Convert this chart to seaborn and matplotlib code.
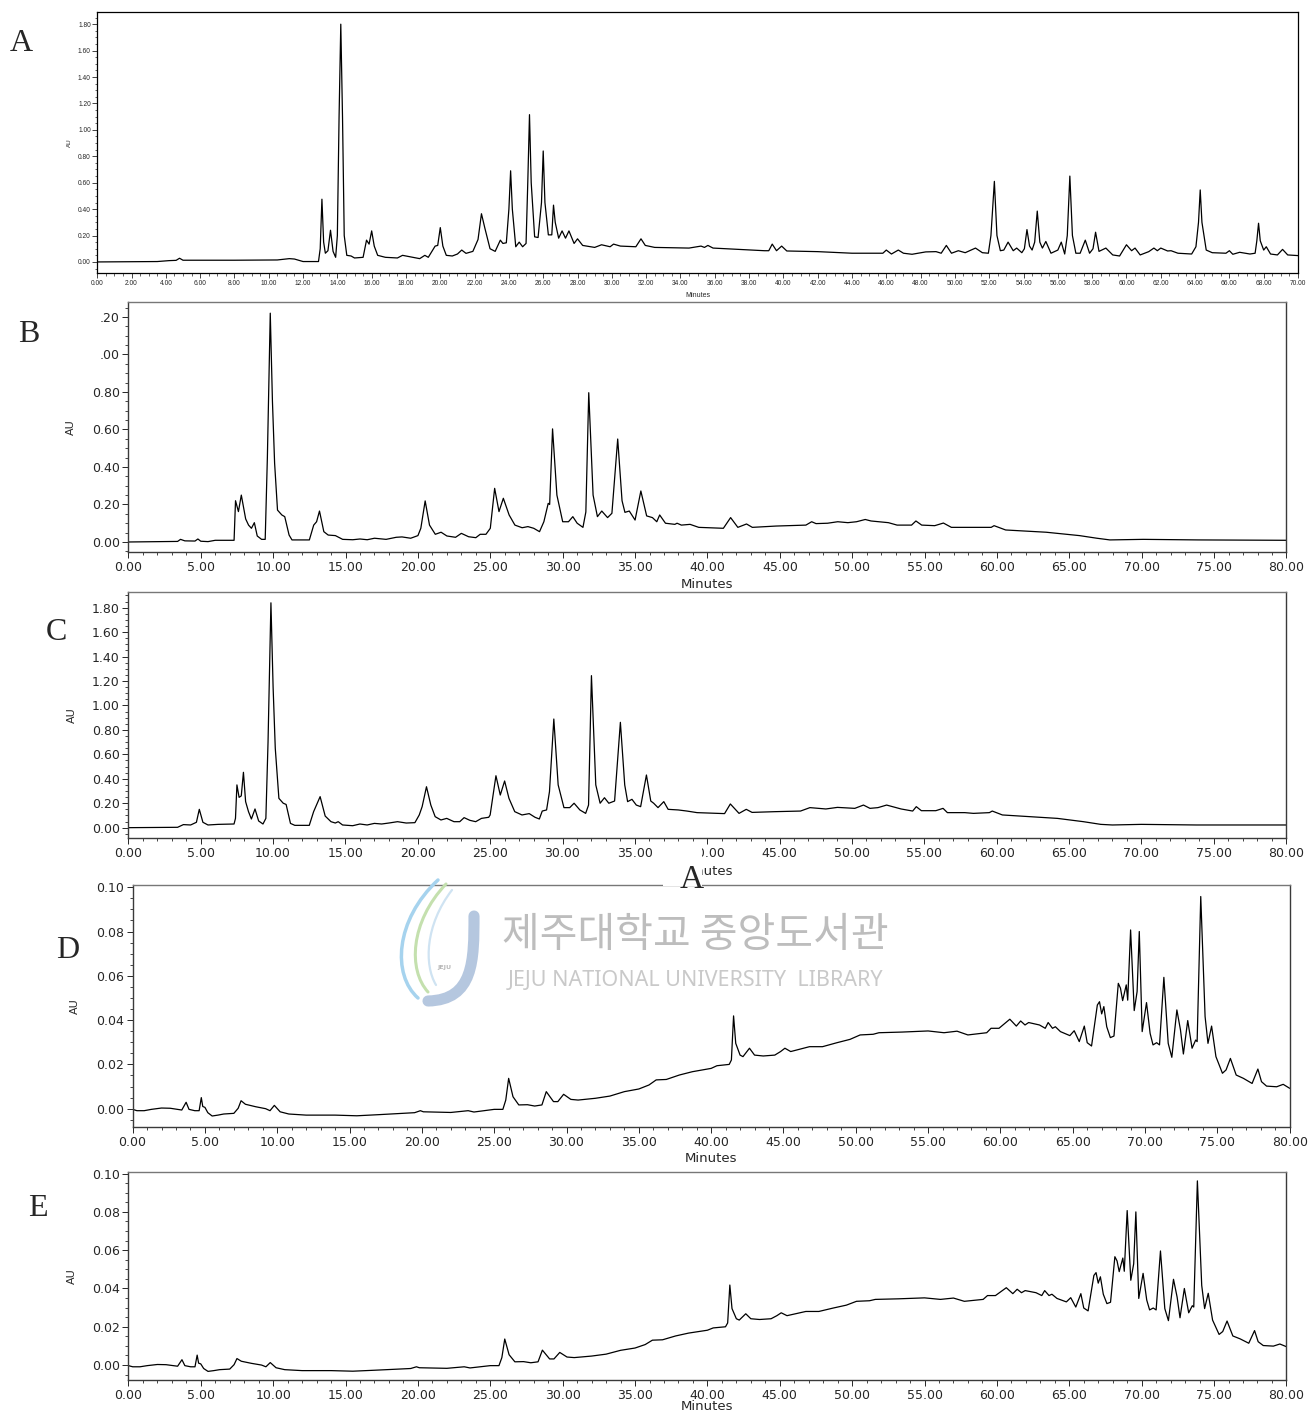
import numpy as np
import seaborn as sns
import matplotlib
matplotlib.use("Agg")
from matplotlib import pyplot as plt
from matplotlib.ticker import MultipleLocator
from matplotlib.patches import Rectangle, PathPatch
from matplotlib.path import Path

# chromatogram traces (minutes, AU)
a_time = [
    0, 3.5, 4.2, 4.6, 4.8, 5.0, 6.0, 8.0, 10.5, 11.2,
    11.5, 12.0, 12.9, 13.0, 13.1, 13.2, 13.3, 13.45, 13.6, 13.75,
    13.9, 14.0, 14.1, 14.2, 14.3, 14.4, 14.55, 14.8, 15.0, 15.5,
    15.7, 15.85, 16.0, 16.15, 16.35, 16.8, 17.5, 17.8, 18.2, 18.8,
    19.1, 19.3, 19.7, 19.85, 20.0, 20.15, 20.35, 20.7, 21.0, 21.25,
    21.5, 21.9, 22.2, 22.4, 22.6, 22.9, 23.2, 23.5, 23.65, 23.85,
    24.0, 24.1, 24.2, 24.4, 24.6, 24.8, 25.0, 25.1, 25.2, 25.3,
    25.5, 25.7, 25.9, 26.0, 26.1, 26.3, 26.5, 26.6, 26.7, 26.9,
    27.1, 27.3, 27.5, 27.8, 28.0, 28.3, 29.0, 29.4, 29.9, 30.1,
    30.5, 31.4, 31.7, 31.95, 32.5, 34.5, 35.2, 35.4, 35.6, 35.9,
    38.9, 39.15, 39.35, 39.6, 39.9, 40.2, 42.0, 44.0, 45.8, 46.0,
    46.3, 46.7, 47.0, 47.5, 48.3, 48.9, 49.2, 49.5, 49.8, 50.2,
    50.6, 51.2, 51.6, 51.95, 52.1, 52.3, 52.45, 52.65, 52.85, 53.1,
    53.4, 53.6, 53.9, 54.05, 54.2, 54.35, 54.5, 54.65, 54.8, 54.95,
    55.1, 55.3, 55.6, 56.0, 56.2, 56.4, 56.55, 56.7, 56.85, 57.05,
    57.3, 57.6, 57.85, 58.05, 58.2, 58.4, 58.8, 59.2, 59.6, 60.0,
    60.3, 60.5, 60.8, 61.3, 61.6, 61.8, 62.0, 62.4, 62.6, 63.0,
    63.8, 64.05, 64.2, 64.3, 64.4, 64.65, 65.0, 65.8, 66.0, 66.2,
    66.6, 67.2, 67.5, 67.6, 67.7, 67.8, 68.0, 68.15, 68.4, 68.8,
    69.1, 69.4, 70.0]
a_au = [
    0.0, 0.003, 0.01, 0.012, 0.028, 0.013, 0.013, 0.013, 0.015, 0.025,
    0.022, 0.003, 0.003, 0.1, 0.475, 0.15, 0.066, 0.085, 0.24, 0.08,
    0.035, 0.2, 1.1, 1.80, 1.1, 0.2, 0.05, 0.045, 0.03, 0.035,
    0.165, 0.135, 0.235, 0.12, 0.05, 0.035, 0.03, 0.05, 0.04, 0.025,
    0.05, 0.035, 0.12, 0.125, 0.26, 0.12, 0.05, 0.045, 0.06, 0.09,
    0.065, 0.08, 0.17, 0.365, 0.255, 0.1, 0.08, 0.165, 0.14, 0.145,
    0.4, 0.69, 0.4, 0.115, 0.15, 0.115, 0.14, 0.6, 1.115, 0.6,
    0.19, 0.185, 0.45, 0.84, 0.45, 0.205, 0.205, 0.43, 0.3, 0.18,
    0.235, 0.18, 0.235, 0.14, 0.175, 0.125, 0.11, 0.13, 0.115, 0.135,
    0.12, 0.115, 0.175, 0.125, 0.11, 0.105, 0.12, 0.11, 0.125, 0.105,
    0.085, 0.085, 0.135, 0.085, 0.12, 0.083, 0.078, 0.066, 0.066, 0.09,
    0.06, 0.09, 0.066, 0.058, 0.076, 0.078, 0.066, 0.125, 0.066, 0.085,
    0.07, 0.105, 0.07, 0.066, 0.2, 0.61, 0.2, 0.085, 0.09, 0.15,
    0.085, 0.105, 0.07, 0.1, 0.245, 0.12, 0.09, 0.15, 0.385, 0.15,
    0.105, 0.155, 0.066, 0.09, 0.15, 0.06, 0.2, 0.65, 0.2, 0.066,
    0.066, 0.165, 0.066, 0.1, 0.225, 0.08, 0.105, 0.053, 0.045, 0.13,
    0.085, 0.105, 0.053, 0.078, 0.105, 0.085, 0.105, 0.083, 0.085, 0.066,
    0.06, 0.115, 0.3, 0.545, 0.3, 0.09, 0.07, 0.066, 0.085, 0.058,
    0.073, 0.06, 0.066, 0.16, 0.293, 0.16, 0.09, 0.115, 0.06, 0.053,
    0.095, 0.053, 0.048]

b_time = [
    0, 3.4, 3.6, 3.9, 4.6, 4.8, 5.0, 5.5, 6.0, 7.3,
    7.4, 7.6, 7.8, 8.1, 8.3, 8.5, 8.7, 8.9, 9.2, 9.45,
    9.6, 9.8, 9.95, 10.1, 10.3, 10.6, 10.8, 11.1, 11.3, 12.5,
    12.8, 13.0, 13.2, 13.5, 13.8, 14.3, 14.8, 15.5, 16.0, 16.5,
    17.0, 17.8, 18.5, 18.9, 19.5, 20.0, 20.2, 20.5, 20.8, 21.2,
    21.6, 22.0, 22.6, 23.0, 23.5, 24.0, 24.3, 24.7, 25.0, 25.3,
    25.6, 25.9, 26.3, 26.7, 27.2, 27.6, 28.0, 28.4, 28.7, 29.0,
    29.1, 29.3, 29.6, 30.0, 30.4, 30.7, 31.0, 31.4, 31.6, 31.8,
    32.1, 32.4, 32.7, 33.1, 33.4, 33.8, 34.1, 34.3, 34.6, 35.0,
    35.4, 35.8, 36.2, 36.5, 36.7, 37.1, 37.75, 37.9, 38.2, 38.8,
    39.4, 41.1, 41.6, 42.1, 42.7, 43.1, 44.75, 46.8, 47.2, 47.5,
    48.3, 49.0, 49.7, 50.3, 50.9, 51.3, 52.5, 53.1, 54.1, 54.4,
    54.8, 55.7, 56.3, 56.85, 58.2, 59.6, 59.8, 60.6, 63.4, 65.7,
    66.9, 67.8, 70.1, 73.9, 80.0]
b_au = [
    0.0, 0.003, 0.014, 0.006, 0.005, 0.016, 0.004, 0.002, 0.009, 0.009,
    0.22, 0.162, 0.25, 0.123, 0.09, 0.073, 0.103, 0.032, 0.014, 0.014,
    0.45, 1.22, 0.75, 0.42, 0.17, 0.144, 0.135, 0.037, 0.011, 0.011,
    0.09, 0.108, 0.165, 0.055, 0.037, 0.034, 0.014, 0.012, 0.016, 0.012,
    0.02, 0.014, 0.025, 0.027, 0.02, 0.034, 0.073, 0.219, 0.09, 0.041,
    0.052, 0.032, 0.025, 0.046, 0.028, 0.023, 0.041, 0.041, 0.073, 0.286,
    0.162, 0.233, 0.144, 0.09, 0.076, 0.082, 0.073, 0.055, 0.108, 0.206,
    0.2, 0.603, 0.25, 0.108, 0.108, 0.135, 0.1, 0.078, 0.16, 0.796,
    0.25, 0.135, 0.165, 0.13, 0.153, 0.549, 0.22, 0.158, 0.165, 0.117,
    0.272, 0.139, 0.13, 0.108, 0.144, 0.1, 0.094, 0.1, 0.09, 0.094,
    0.078, 0.073, 0.13, 0.078, 0.096, 0.078, 0.085, 0.09, 0.108, 0.098,
    0.1, 0.108, 0.103, 0.108, 0.12, 0.112, 0.103, 0.09, 0.09, 0.112,
    0.09, 0.087, 0.101, 0.078, 0.078, 0.078, 0.087, 0.064, 0.052, 0.034,
    0.02, 0.011, 0.014, 0.011, 0.009]

c_time = [
    0, 3.4, 3.8, 4.3, 4.7, 4.9, 5.15, 5.5, 6.2, 7.3,
    7.4, 7.5, 7.65, 7.8, 7.95, 8.1, 8.3, 8.5, 8.75, 9.0,
    9.3, 9.5, 9.65, 9.85, 10.0, 10.15, 10.4, 10.7, 10.9, 11.2,
    11.5, 12.5, 12.8, 13.0, 13.25, 13.6, 14.0, 14.3, 14.5, 14.8,
    15.5, 16.0, 16.5, 17.0, 17.5, 18.0, 18.6, 19.2, 19.8, 20.1,
    20.3, 20.6, 20.9, 21.2, 21.6, 22.0, 22.5, 22.9, 23.2, 23.6,
    24.0, 24.4, 24.9, 25.0, 25.4, 25.7, 26.0, 26.3, 26.7, 27.2,
    27.7, 28.1, 28.4, 28.6, 28.9, 29.1, 29.4, 29.7, 30.1, 30.5,
    30.8, 31.2, 31.6, 31.8, 32.0, 32.3, 32.6, 32.9, 33.2, 33.6,
    34.0, 34.3, 34.5, 34.8, 35.1, 35.4, 35.8, 36.1, 36.3, 36.6,
    37.0, 37.3, 38.0, 38.6, 39.3, 41.2, 41.6, 42.2, 42.7, 43.1,
    44.7, 46.45, 47.1, 48.2, 49.0, 50.2, 50.8, 51.25, 51.8, 52.4,
    53.4, 54.2, 54.45, 54.8, 55.8, 56.3, 56.6, 57.8, 58.4, 59.5,
    59.7, 60.4, 61.6, 64.2, 66.0, 67.2, 68.0, 70.0, 73.8, 80.0]
c_au = [
    0.0, 0.003, 0.025, 0.022, 0.044, 0.15, 0.044, 0.022, 0.027, 0.03,
    0.076, 0.35, 0.248, 0.26, 0.453, 0.213, 0.131, 0.071, 0.153, 0.055,
    0.03, 0.076, 0.7, 1.84, 1.15, 0.65, 0.24, 0.2, 0.19, 0.035,
    0.019, 0.019, 0.131, 0.185, 0.254, 0.095, 0.049, 0.038, 0.049, 0.022,
    0.016, 0.03, 0.022, 0.035, 0.03, 0.038, 0.049, 0.038, 0.041, 0.104,
    0.172, 0.335, 0.185, 0.09, 0.063, 0.076, 0.049, 0.049, 0.082, 0.06,
    0.049, 0.076, 0.085, 0.104, 0.425, 0.267, 0.382, 0.24, 0.131, 0.104,
    0.115, 0.085, 0.071, 0.136, 0.145, 0.295, 0.889, 0.35, 0.164, 0.164,
    0.2, 0.145, 0.117, 0.185, 1.244, 0.35, 0.2, 0.245, 0.2, 0.218,
    0.862, 0.35, 0.213, 0.232, 0.185, 0.172, 0.431, 0.218, 0.2, 0.164,
    0.213, 0.15, 0.145, 0.136, 0.123, 0.115, 0.194, 0.117, 0.15, 0.125,
    0.131, 0.136, 0.164, 0.153, 0.166, 0.158, 0.185, 0.158, 0.164, 0.185,
    0.153, 0.136, 0.172, 0.139, 0.139, 0.158, 0.123, 0.123, 0.117, 0.123,
    0.136, 0.104, 0.095, 0.076, 0.049, 0.027, 0.022, 0.027, 0.022, 0.022]

d_time = [
    0, 0.3, 0.8, 1.3, 2.0, 2.6, 3.4, 3.7, 3.9, 4.3,
    4.6, 4.75, 4.85, 5.0, 5.2, 5.5, 5.9, 6.3, 7.0, 7.3,
    7.5, 7.8, 8.5, 9.2, 9.5, 9.8, 10.2, 10.8, 12.0, 14.0,
    15.5, 17.0, 19.5, 19.9, 20.1, 22.0, 23.2, 23.6, 25.0, 25.6,
    25.8, 26.0, 26.3, 26.7, 27.3, 27.8, 28.3, 28.6, 29.1, 29.4,
    29.8, 30.3, 30.8, 32.0, 33.0, 34.0, 35.0, 35.7, 36.2, 36.9,
    37.8, 38.7, 40.0, 40.4, 41.25, 41.4, 41.55, 41.7, 42.0, 42.2,
    42.65, 43.0, 43.6, 44.4, 44.8, 45.1, 45.5, 46.8, 47.7, 48.7,
    49.6, 50.3, 51.2, 51.6, 53.2, 55.0, 56.1, 57.0, 57.75, 59.05,
    59.35, 59.9, 60.65, 61.1, 61.4, 61.7, 61.95, 62.7, 63.1, 63.3,
    63.6, 63.8, 64.15, 64.8, 65.1, 65.45, 65.8, 66.0, 66.3, 66.7,
    66.85, 67.0, 67.15, 67.35, 67.6, 67.85, 68.15, 68.3, 68.45, 68.7,
    68.8, 69.0, 69.25, 69.45, 69.6, 69.8, 70.1, 70.35, 70.55, 70.8,
    71.0, 71.3, 71.6, 71.85, 72.2, 72.45, 72.65, 72.95, 73.25, 73.5,
    73.6, 73.85, 74.15, 74.35, 74.6, 74.9, 75.35, 75.6, 75.9, 76.3,
    76.8, 77.4, 77.8, 78.05, 78.4, 79.1, 79.55, 80.0]
d_au = [
    -0.0003, -0.0009, -0.0009, -0.0003, 0.0003, 0.0002, -0.0006, 0.0029, -0.0003, -0.0009,
    -0.0009, 0.005, 0.001, 0.0006, -0.0018, -0.0033, -0.0029, -0.0024, -0.0021, 0.0002,
    0.0036, 0.002, 0.0009, 0.0, -0.0009, 0.0015, -0.0014, -0.0024, -0.0029, -0.0029,
    -0.0032, -0.0027, -0.0018, -0.0009, -0.0014, -0.0017, -0.0009, -0.0015, -0.0003, -0.0003,
    0.0039, 0.0137, 0.0054, 0.0017, 0.0018, 0.0012, 0.0017, 0.0077, 0.0032, 0.0032,
    0.0065, 0.0042, 0.0039, 0.0047, 0.0057, 0.0077, 0.0089, 0.0107, 0.013, 0.0132,
    0.0152, 0.0167, 0.0182, 0.0194, 0.02, 0.022, 0.0419, 0.0295, 0.0242, 0.0235,
    0.0273, 0.0242, 0.0238, 0.0242, 0.0258, 0.0273, 0.0258, 0.028, 0.028, 0.0298,
    0.0313, 0.0333, 0.0336, 0.0343, 0.0346, 0.0351, 0.0343, 0.035, 0.0333, 0.0343,
    0.0363, 0.0363, 0.0404, 0.0373, 0.0396, 0.0378, 0.0389, 0.0378, 0.0363, 0.0389,
    0.0363, 0.037, 0.0348, 0.033, 0.0352, 0.0303, 0.0373, 0.0298, 0.0283, 0.0468,
    0.0483, 0.0428, 0.0461, 0.037, 0.0321, 0.0328, 0.0566, 0.0544, 0.0488, 0.0559,
    0.049, 0.0807, 0.0443, 0.0529, 0.08, 0.0348, 0.0479, 0.034, 0.0288, 0.0298,
    0.0288, 0.0593, 0.0295, 0.0232, 0.0446, 0.0355, 0.0247, 0.0398, 0.0273, 0.031,
    0.0303, 0.0958, 0.0416, 0.0295, 0.0373, 0.0235, 0.016, 0.0175, 0.0227, 0.0152,
    0.0137, 0.0114, 0.0179, 0.0122, 0.0102, 0.0099, 0.011, 0.0092]

# E was run on the same time grid as D
e_time = list(d_time)
e_au = [
    -0.0003, -0.0009, -0.0009, -0.0003, 0.0003, 0.0002, -0.0006, 0.0028, -0.0003, -0.0009,
    -0.0009, 0.0052, 0.001, 0.0006, -0.0018, -0.0033, -0.0029, -0.0024, -0.0021, 0.0002,
    0.0034, 0.002, 0.0009, 0.0, -0.0009, 0.0013, -0.0014, -0.0024, -0.0029, -0.0029,
    -0.0032, -0.0027, -0.0018, -0.0009, -0.0014, -0.0017, -0.0009, -0.0015, -0.0003, -0.0003,
    0.0039, 0.0136, 0.0054, 0.0017, 0.0018, 0.0012, 0.0017, 0.0078, 0.0032, 0.0032,
    0.0066, 0.0042, 0.0039, 0.0047, 0.0057, 0.0077, 0.0089, 0.0107, 0.013, 0.0132,
    0.0152, 0.0167, 0.0182, 0.0194, 0.02, 0.022, 0.0418, 0.0295, 0.0242, 0.0235,
    0.0268, 0.0242, 0.0238, 0.0242, 0.0258, 0.0273, 0.0258, 0.028, 0.028, 0.0298,
    0.0313, 0.0333, 0.0336, 0.0343, 0.0346, 0.0351, 0.0343, 0.035, 0.0333, 0.0343,
    0.0363, 0.0363, 0.0404, 0.0373, 0.0396, 0.0378, 0.0389, 0.0378, 0.0363, 0.0389,
    0.0363, 0.037, 0.0348, 0.033, 0.0352, 0.0303, 0.0373, 0.0298, 0.0283, 0.0468,
    0.0483, 0.0428, 0.0461, 0.037, 0.0321, 0.0328, 0.0566, 0.0544, 0.0488, 0.0559,
    0.049, 0.0807, 0.0443, 0.0529, 0.08, 0.0348, 0.0479, 0.034, 0.0288, 0.0298,
    0.0288, 0.0596, 0.0295, 0.0232, 0.0448, 0.0355, 0.0247, 0.0400, 0.0273, 0.031,
    0.0303, 0.0962, 0.0416, 0.0295, 0.0375, 0.0235, 0.016, 0.0175, 0.0230, 0.0152,
    0.0137, 0.0114, 0.0180, 0.0122, 0.0102, 0.0099, 0.011, 0.0096]

# tick labels
a_xticks = list(range(0, 71, 2))
a_xlabels = [f"{v:.2f}" for v in a_xticks]
a_yticks = [0.0, 0.2, 0.4, 0.6, 0.8, 1.0, 1.2, 1.4, 1.6, 1.8]
a_ylabels = ["0.00", "0.20", "0.40", "0.60", "0.80", "1.00", "1.20", "1.40", "1.60", "1.80"]
long_xticks = list(range(0, 81, 5))
long_xlabels = [f"{v:.2f}" for v in long_xticks]
b_yticks = [0.0, 0.2, 0.4, 0.6, 0.8, 1.0, 1.2]
b_ylabels = ["0.00", "0.20", "0.40", "0.60", "0.80", ".00", ".20"]
c_yticks = a_yticks
c_ylabels = a_ylabels
de_yticks = [0.0, 0.02, 0.04, 0.06, 0.08, 0.10]
de_ylabels = ["0.00", "0.02", "0.04", "0.06", "0.08", "0.10"]

#%%
sns.set_style("ticks")
plt.rcParams['font.family'] = ['DejaVu Sans']

W, H = 1311, 1414
fig = plt.figure(figsize=(W / 100, H / 100), dpi=100)


def px_box(l, t, r, b):
    return [l / W, 1 - b / H, (r - l) / W, (b - t) / H]


def fx(x):
    return x / W


def fy(y):
    return 1 - y / H


panels = [
    dict(letter="A", t=a_time, y=a_au, box=(97.2, 12.3, 1298, 273.3), xlim=(0, 70), ylim=(-0.086, 1.89),
         xt=a_xticks, xl=a_xlabels, xmin=0.5, yt=a_yticks, yl=a_ylabels, ymin=0.05,
         small=True, xlab_y=-0.072, ylab_x=-0.021, let=(21, 50.7)),
    dict(letter="B", t=b_time, y=b_au, box=(128.4, 302.3, 1286.5, 552.3), xlim=(0, 80), ylim=(-0.055, 1.278),
         xt=long_xticks, xl=long_xlabels, xmin=1, yt=b_yticks, yl=b_ylabels, ymin=0.05,
         small=False, xlab_y=-0.103, ylab_x=-0.0454, let=(28.6, 341.7)),
    dict(letter="C", t=c_time, y=c_au, box=(128.4, 591.7, 1286, 838.3), xlim=(0, 80), ylim=(-0.087, 1.931),
         xt=long_xticks, xl=long_xlabels, xmin=1, yt=c_yticks, yl=c_ylabels, ymin=0.05,
         small=False, xlab_y=-0.108, ylab_x=-0.0444, let=(56.8, 640)),
    dict(letter="D", t=d_time, y=d_au, box=(132.6, 885, 1289.7, 1127.3), xlim=(0, 80), ylim=(-0.0084, 0.101),
         xt=long_xticks, xl=long_xlabels, xmin=1, yt=de_yticks, yl=de_ylabels, ymin=0.005,
         small=False, xlab_y=-0.103, ylab_x=-0.0455, let=(67.3, 958.3)),
    dict(letter="E", t=e_time, y=e_au, box=(128.4, 1171.7, 1286.4, 1380), xlim=(0, 80), ylim=(-0.0078, 0.101),
         xt=long_xticks, xl=long_xlabels, xmin=1, yt=de_yticks, yl=de_ylabels, ymin=0.005,
         small=False, xlab_y=-0.098, ylab_x=-0.0444, let=(37.9, 1216)),
]

for p in panels:
    ax = fig.add_axes(px_box(*p["box"]))
    sns.lineplot(x=p["t"], y=p["y"], ax=ax, color="black", linewidth=0.9,
                 estimator=None, sort=False, legend=False)
    ax.set_xlim(*p["xlim"])
    ax.set_ylim(*p["ylim"])
    ax.set_xticks(p["xt"], labels=p["xl"])
    ax.set_yticks(p["yt"], labels=p["yl"])
    ax.xaxis.set_minor_locator(MultipleLocator(p["xmin"]))
    ax.yaxis.set_minor_locator(MultipleLocator(p["ymin"]))
    if p["small"]:
        fam, size, lab = "Liberation Sans", 4.8, 5
        ax.tick_params(which="major", length=3.6, width=0.6, pad=1, labelsize=size, labelfontfamily=fam)
        ax.tick_params(which="minor", length=1.8, width=0.5)
        for s in ax.spines.values():
            s.set_linewidth(0.9)
            s.set_color("black")
    else:
        fam, size, lab = "DejaVu Sans", 9, 9.5
        ax.tick_params(which="major", length=4.3, width=0.7, pad=2, labelsize=size, labelfontfamily=fam)
        ax.tick_params(which="minor", length=2.3, width=0.6)
        for s in ax.spines.values():
            s.set_linewidth(1.0)
            s.set_color("#3a3a3a")
        ax.spines["top"].set_color("#777777")
    ax.set_xlabel("Minutes", fontsize=lab, family=fam, va="top")
    ax.xaxis.set_label_coords(0.5, p["xlab_y"])
    ax.set_ylabel("AU", fontsize=lab - (0.5 if p["small"] else 1.5), family=fam)
    ax.yaxis.set_label_coords(p["ylab_x"], 0.5)
    fig.text(fx(p["let"][0]), fy(p["let"][1]), p["letter"], ha="center", va="baseline",
             fontsize=23, family="Liberation Serif")

# stray caption "A" pasted over panel C / D in the original document
fig.add_artist(Rectangle((fx(663), fy(886)), 39 / W, 42 / H, transform=fig.transFigure,
                         facecolor="white", edgecolor="none", zorder=10))
fig.text(fx(692), fy(887.5), "A", ha="center", va="baseline", fontsize=24,
         family="Liberation Serif", zorder=11)

# library watermark
fig.text(fx(695), fy(936), "제주대학교 중앙도서관", ha="center", va="center", fontsize=29.5,
         family=["Noto Sans CJK KR", "DejaVu Sans"], color="#bdbdbd", zorder=12)
fig.text(fx(695), fy(980), "JEJU NATIONAL UNIVERSITY  LIBRARY", ha="center", va="center",
         fontsize=15.5, family="Noto Sans", color="#c9c9c9", zorder=12)


def curve(pts, color, lw):
    verts = [(fx(x), fy(y)) for x, y in pts]
    codes = [Path.MOVETO] + [Path.CURVE4] * (len(verts) - 1)
    fig.add_artist(PathPatch(Path(verts, codes), transform=fig.transFigure, facecolor="none",
                             edgecolor=color, linewidth=lw, capstyle="round", zorder=12))


curve([(438, 880), (395, 920), (392, 975), (418, 998)], "#a6d3ee", 2.5)
curve([(446, 884), (410, 922), (408, 970), (428, 992)], "#c4e0ae", 2.2)
curve([(452, 890), (425, 925), (424, 965), (436, 985)], "#cfe3f2", 1.6)
curve([(474, 916), (474, 960), (474, 1000), (428, 1001)], "#b5c7df", 8)
fig.text(fx(444), fy(968), "JEJU", ha="center", va="center", fontsize=4.5,
         color="#b8b8b8", weight="bold", zorder=12)

fig.savefig("out.png", dpi=100)
